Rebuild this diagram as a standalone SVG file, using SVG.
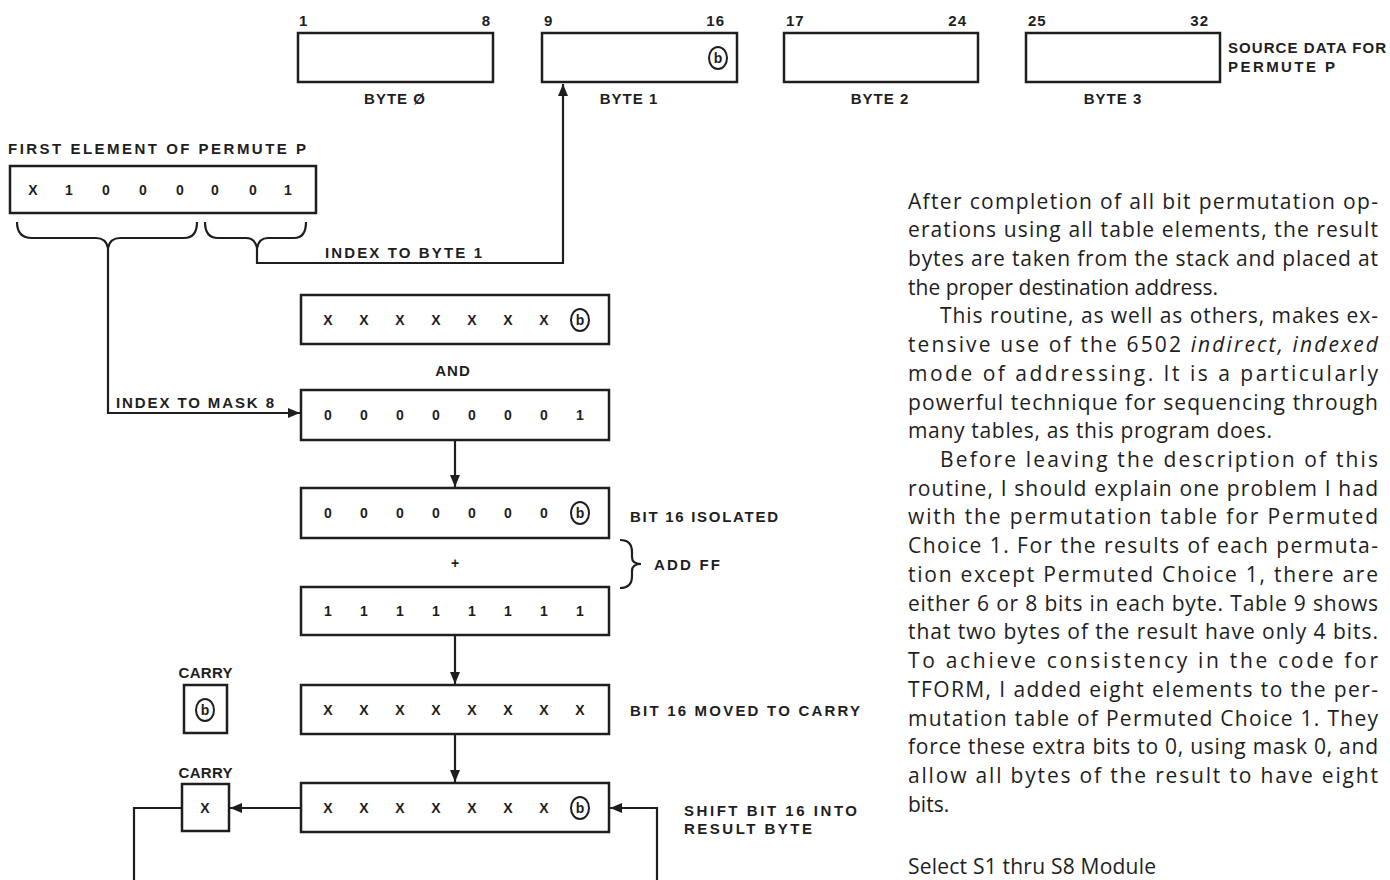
<svg xmlns="http://www.w3.org/2000/svg" width="1390" height="880" viewBox="0 0 1390 880">
<defs>
<style>
.bx{fill:none;stroke:#1e1e1e;stroke-width:2.5}
.ln{fill:none;stroke:#1e1e1e;stroke-width:2.2}
.lb{font-family:"Liberation Sans",Arial,sans-serif;font-weight:bold;font-size:15px;fill:#1e1e1e;letter-spacing:1px}
.v{font-family:"Liberation Sans",Arial,sans-serif;font-weight:bold;font-size:14px;fill:#1e1e1e;text-anchor:middle}
.cb{fill:none;stroke:#1e1e1e;stroke-width:2}
.p{font-family:"Open Sans",Lato,sans-serif;font-size:21px;fill:#1e1e1e}
</style>
<marker id="ah" viewBox="0 0 12 10" refX="12" refY="5" markerWidth="13" markerHeight="10" markerUnits="userSpaceOnUse" orient="auto">
<path d="M0,0 L12,5 L0,10 Z" fill="#1e1e1e"/>
</marker>
</defs>
<rect width="1390" height="880" fill="#ffffff"/>

<!-- Source bytes -->
<g id="byte0">
<rect class="bx" x="298" y="33" width="195" height="49"/>
<text class="lb" x="299" y="26">1</text>
<text class="lb" x="491" y="26" text-anchor="end">8</text>
<text class="lb" x="395" y="104" text-anchor="middle">BYTE Ø</text>
</g>
<g id="byte1">
<rect class="bx" x="542" y="33" width="195" height="49"/>
<text class="lb" x="544" y="26">9</text>
<text class="lb" x="725" y="26" text-anchor="end">16</text>
<ellipse class="cb" cx="718" cy="58" rx="9" ry="11"/>
<text class="v" x="718" y="63">b</text>
<text class="lb" x="629" y="104" text-anchor="middle">BYTE 1</text>
</g>
<g id="byte2">
<rect class="bx" x="784" y="33" width="194" height="49"/>
<text class="lb" x="786" y="26">17</text>
<text class="lb" x="967" y="26" text-anchor="end">24</text>
<text class="lb" x="880" y="104" text-anchor="middle">BYTE 2</text>
</g>
<g id="byte3">
<rect class="bx" x="1026" y="33" width="194" height="49"/>
<text class="lb" x="1028" y="26">25</text>
<text class="lb" x="1209" y="26" text-anchor="end">32</text>
<text class="lb" x="1113" y="104" text-anchor="middle">BYTE 3</text>
<text class="lb" x="1228" y="53" textLength="159" lengthAdjust="spacing">SOURCE DATA FOR</text>
<text class="lb" x="1228" y="72" textLength="108" lengthAdjust="spacing">PERMUTE P</text>
</g>

<!-- First element -->
<g id="first-element">
<text class="lb" x="8" y="154" textLength="299" lengthAdjust="spacing">FIRST ELEMENT OF PERMUTE P</text>
<rect class="bx" x="10" y="166" width="306" height="47"/>
<text class="v" x="33" y="195">X</text>
<text class="v" x="69" y="195">1</text>
<text class="v" x="106" y="195">0</text>
<text class="v" x="143" y="195">0</text>
<text class="v" x="180" y="195">0</text>
<text class="v" x="215" y="195">0</text>
<text class="v" x="253" y="195">0</text>
<text class="v" x="288" y="195">1</text>
</g>

<!-- Row A -->
<g id="row-a">
<rect class="bx" x="301" y="295" width="308" height="49"/>
<text class="v" x="328" y="325">X</text><text class="v" x="364" y="325">X</text><text class="v" x="400" y="325">X</text><text class="v" x="436" y="325">X</text><text class="v" x="472" y="325">X</text><text class="v" x="508" y="325">X</text><text class="v" x="544" y="325">X</text>
<ellipse class="cb" cx="580" cy="320" rx="9" ry="11"/><text class="v" x="580" y="325">b</text>
<text class="lb" x="453" y="376" text-anchor="middle">AND</text>
</g>

<!-- Row B -->
<g id="row-b">
<rect class="bx" x="301" y="390" width="308" height="50"/>
<text class="v" x="328" y="420">0</text><text class="v" x="364" y="420">0</text><text class="v" x="400" y="420">0</text><text class="v" x="436" y="420">0</text><text class="v" x="472" y="420">0</text><text class="v" x="508" y="420">0</text><text class="v" x="544" y="420">0</text><text class="v" x="580" y="420">1</text>
</g>

<!-- Row C -->
<g id="row-c">
<rect class="bx" x="301" y="488" width="308" height="50"/>
<text class="v" x="328" y="518">0</text><text class="v" x="364" y="518">0</text><text class="v" x="400" y="518">0</text><text class="v" x="436" y="518">0</text><text class="v" x="472" y="518">0</text><text class="v" x="508" y="518">0</text><text class="v" x="544" y="518">0</text>
<ellipse class="cb" cx="580" cy="513" rx="9" ry="11"/><text class="v" x="580" y="518">b</text>
<text class="lb" x="630" y="522" textLength="149" lengthAdjust="spacing">BIT 16 ISOLATED</text>
<text class="v" x="455" y="568">+</text>
<path class="ln" d="M620,540 Q632,540 632,552 L632,557 Q632,564 641,564 Q632,564 632,571 L632,576 Q632,588 620,588"/>
<text class="lb" x="654" y="570" textLength="67" lengthAdjust="spacing">ADD FF</text>
</g>

<!-- Row D -->
<g id="row-d">
<rect class="bx" x="301" y="587" width="308" height="48"/>
<text class="v" x="328" y="616">1</text><text class="v" x="364" y="616">1</text><text class="v" x="400" y="616">1</text><text class="v" x="436" y="616">1</text><text class="v" x="472" y="616">1</text><text class="v" x="508" y="616">1</text><text class="v" x="544" y="616">1</text><text class="v" x="580" y="616">1</text>
</g>

<!-- Row E -->
<g id="row-e">
<rect class="bx" x="301" y="685" width="308" height="49"/>
<text class="v" x="328" y="715">X</text><text class="v" x="364" y="715">X</text><text class="v" x="400" y="715">X</text><text class="v" x="436" y="715">X</text><text class="v" x="472" y="715">X</text><text class="v" x="508" y="715">X</text><text class="v" x="544" y="715">X</text><text class="v" x="580" y="715">X</text>
<text class="lb" x="630" y="716" textLength="231" lengthAdjust="spacing">BIT 16 MOVED TO CARRY</text>
</g>

<!-- Carry 1 -->
<g id="carry-1">
<text class="lb" x="206" y="678" text-anchor="middle" textLength="55" lengthAdjust="spacing">CARRY</text>
<rect class="bx" x="184" y="685" width="43" height="48"/>
<ellipse class="cb" cx="205" cy="710" rx="9" ry="11"/><text class="v" x="205" y="715">b</text>
</g>

<!-- Row F -->
<g id="row-f">
<rect class="bx" x="301" y="783" width="308" height="49"/>
<text class="v" x="328" y="813">X</text><text class="v" x="364" y="813">X</text><text class="v" x="400" y="813">X</text><text class="v" x="436" y="813">X</text><text class="v" x="472" y="813">X</text><text class="v" x="508" y="813">X</text><text class="v" x="544" y="813">X</text>
<ellipse class="cb" cx="580" cy="808" rx="9" ry="11"/><text class="v" x="580" y="813">b</text>
<text class="lb" x="684" y="816" textLength="174" lengthAdjust="spacing">SHIFT BIT 16 INTO</text>
<text class="lb" x="684" y="834" textLength="129" lengthAdjust="spacing">RESULT BYTE</text>
</g>

<!-- Carry 2 -->
<g id="carry-2">
<text class="lb" x="206" y="778" text-anchor="middle" textLength="55" lengthAdjust="spacing">CARRY</text>
<rect class="bx" x="182" y="784" width="47" height="47"/>
<text class="v" x="205" y="813">X</text>
</g>

<!-- Connectors -->
<g id="connectors">
<path class="ln" d="M17,222 Q17,238 32,238 L96,238 Q106,238 108,248 Q110,238 120,238 L184,238 Q197,238 197,222"/>
<path class="ln" d="M205,222 Q205,238 218,238 L246,238 Q255,238 257,248 Q259,238 268,238 L294,238 Q306,238 306,222"/>
<path class="ln" d="M257,248 L257,263 L563,263 L563,84" marker-end="url(#ah)"/>
<text class="lb" x="325" y="258" textLength="158" lengthAdjust="spacing">INDEX TO BYTE 1</text>
<path class="ln" d="M108,248 L108,413 L300,413" marker-end="url(#ah)"/>
<text class="lb" x="116" y="408" textLength="159" lengthAdjust="spacing">INDEX TO MASK 8</text>
<path class="ln" d="M455,440 L455,487" marker-end="url(#ah)"/>
<path class="ln" d="M455,635 L455,684" marker-end="url(#ah)"/>
<path class="ln" d="M455,734 L455,782" marker-end="url(#ah)"/>
<path class="ln" d="M301,808 L230,808" marker-end="url(#ah)"/>
<path class="ln" d="M182,808 L134,808 L134,882"/>
<path class="ln" d="M657,882 L657,808 L610,808" marker-end="url(#ah)"/>
</g>

<!-- Body text -->
<g id="body-text">
<text class="p" x="908" y="209" textLength="470" lengthAdjust="spacing">After completion of all bit permutation op-</text>
<text class="p" x="908" y="237" textLength="470" lengthAdjust="spacing">erations using all table elements, the result</text>
<text class="p" x="908" y="266" textLength="470" lengthAdjust="spacing">bytes are taken from the stack and placed at</text>
<text class="p" x="908" y="295" textLength="310" lengthAdjust="spacing">the proper destination address.</text>
<text class="p" x="940" y="323" textLength="438" lengthAdjust="spacing">This routine, as well as others, makes ex-</text>
<text class="p" x="908" y="352" textLength="470" lengthAdjust="spacing">tensive use of the 6502 <tspan font-style="italic">indirect, indexed</tspan></text>
<text class="p" x="908" y="381" textLength="470" lengthAdjust="spacing">mode of addressing. It is a particularly</text>
<text class="p" x="908" y="410" textLength="470" lengthAdjust="spacing">powerful technique for sequencing through</text>
<text class="p" x="908" y="438" textLength="364" lengthAdjust="spacing">many tables, as this program does.</text>
<text class="p" x="940" y="467" textLength="438" lengthAdjust="spacing">Before leaving the description of this</text>
<text class="p" x="908" y="496" textLength="470" lengthAdjust="spacing">routine, I should explain one problem I had</text>
<text class="p" x="908" y="524" textLength="470" lengthAdjust="spacing">with the permutation table for Permuted</text>
<text class="p" x="908" y="553" textLength="470" lengthAdjust="spacing">Choice 1. For the results of each permuta-</text>
<text class="p" x="908" y="582" textLength="470" lengthAdjust="spacing">tion except Permuted Choice 1, there are</text>
<text class="p" x="908" y="611" textLength="470" lengthAdjust="spacing">either 6 or 8 bits in each byte. Table 9 shows</text>
<text class="p" x="908" y="639" textLength="470" lengthAdjust="spacing">that two bytes of the result have only 4 bits.</text>
<text class="p" x="908" y="668" textLength="470" lengthAdjust="spacing">To achieve consistency in the code for</text>
<text class="p" x="908" y="697" textLength="470" lengthAdjust="spacing">TFORM, I added eight elements to the per-</text>
<text class="p" x="908" y="726" textLength="470" lengthAdjust="spacing">mutation table of Permuted Choice 1. They</text>
<text class="p" x="908" y="754" textLength="470" lengthAdjust="spacing">force these extra bits to 0, using mask 0, and</text>
<text class="p" x="908" y="783" textLength="470" lengthAdjust="spacing">allow all bytes of the result to have eight</text>
<text class="p" x="908" y="812">bits.</text>
<text class="p" x="908" y="874" textLength="248" lengthAdjust="spacing">Select S1 thru S8 Module</text>
</g>
</svg>
